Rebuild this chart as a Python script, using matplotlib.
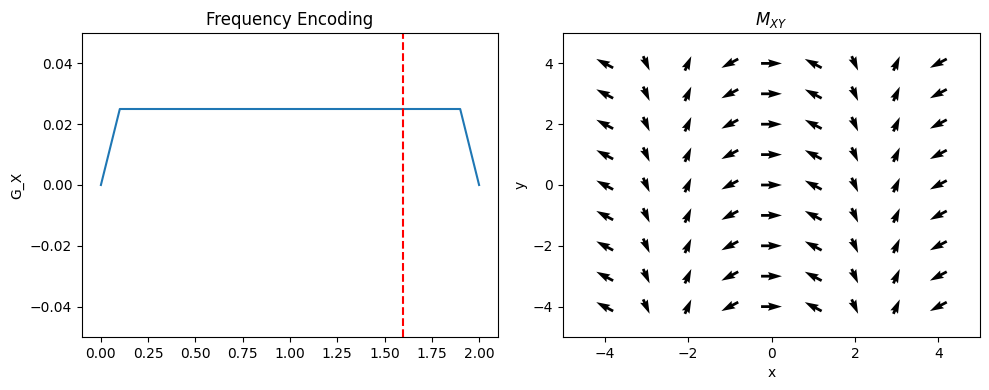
import numpy as np
from matplotlib import pyplot as plt

# gradient waveform
t = [0.0, 0.1, 1.9, 2.0]
gx = [0.0, 0.025, 0.025, 0.0]
t_line = 1.6

# magnetization grid
xs = [-4, -3, -2, -1, 0, 1, 2, 3, 4]
ys = [-4, -3, -2, -1, 0, 1, 2, 3, 4]
angle_deg = [144, -72, 72, -144, 0, 144, -72, 72, -144]  # one per column

X, Y = np.meshgrid(xs, ys)
ang = np.deg2rad(np.tile(angle_deg, (len(ys), 1)))
U = np.cos(ang)
V = np.sin(ang)

fig = plt.figure(figsize=(9.89, 3.9), dpi=100)
ax1 = fig.add_axes([82/989, 53/390, 416/989, 304/390])
ax2 = fig.add_axes([563/989, 53/390, 417/989, 304/390])

ax1.plot(t, gx)
ax1.axvline(t_line, color='r', linestyle='--')
ax1.set_ylim(-0.05, 0.05)
ax1.set_title('Frequency Encoding')
ax1.set_ylabel('G_X')

ax2.quiver(X, Y, U, V, pivot='middle', angles='xy', scale_units='xy', scale=2.0)
ax2.set_xlim(-5, 5)
ax2.set_ylim(-5, 5)
ax2.set_title('$M_{XY}$')
ax2.set_xlabel('x')
ax2.set_ylabel('y')

plt.savefig('out.png')
